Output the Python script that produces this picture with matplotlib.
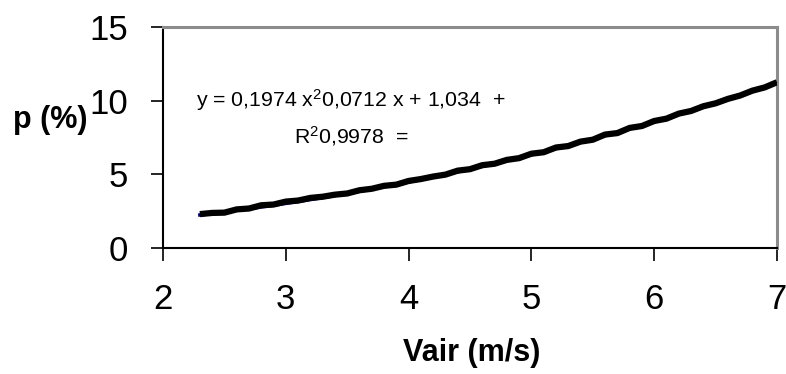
import numpy as np
import matplotlib.pyplot as plt

plt.rcParams['font.family'] = ['Liberation Sans', 'DejaVu Sans']
plt.rcParams['mathtext.fontset'] = 'custom'
plt.rcParams['mathtext.rm'] = 'Liberation Sans'
plt.rcParams['mathtext.default'] = 'regular'

# measured points (Vair in m/s, p in %)
vair = [2.3, 2.4, 2.5, 2.6, 2.7, 2.8, 2.9, 3.0, 3.1, 3.2, 3.3, 3.4, 3.5, 3.6, 3.7, 3.8,
        3.9, 4.0, 4.1, 4.2, 4.3, 4.4, 4.5, 4.6, 4.7, 4.8, 4.9, 5.0, 5.1, 5.2, 5.3, 5.4,
        5.5, 5.6, 5.7, 5.8, 5.9, 6.0, 6.1, 6.2, 6.3, 6.4, 6.5, 6.6, 6.7, 6.8, 6.9, 7.0]
p = [2.30, 2.38, 2.40, 2.62, 2.68, 2.90, 2.95, 3.15, 3.22, 3.40, 3.48, 3.62, 3.70, 3.92,
     4.02, 4.22, 4.30, 4.55, 4.68, 4.85, 4.98, 5.25, 5.35, 5.62, 5.72, 5.98, 6.10, 6.40,
     6.50, 6.82, 6.92, 7.22, 7.35, 7.70, 7.80, 8.15, 8.28, 8.62, 8.78, 9.12, 9.30, 9.62,
     9.82, 10.12, 10.35, 10.68, 10.90, 11.25]

# trendline coefficients shown on the chart
coef = [0.1974, 0.0712, 1.034]
r2 = 0.9978

fig = plt.figure(figsize=(7.86, 3.74), dpi=100)
ax = fig.add_axes([163 / 786, 1 - 248 / 374, (777 - 163) / 786, (248 - 27) / 374])

# polynomial trendline under the measured curve
xt = np.linspace(min(vair), max(vair), 200)
ax.plot(xt, np.polyval(coef, xt), color='#000080', lw=2.5, zorder=2)
ax.plot(vair, p, color='black', lw=4.5, solid_joinstyle='round',
        solid_capstyle='butt', zorder=3)

ax.set_xlim(2, 7)
ax.set_ylim(0, 15)
ax.set_xticks([2, 3, 4, 5, 6, 7])
ax.set_yticks([0, 5, 10, 15])
ax.tick_params(direction='out', length=9, width=1.2, labelsize=25, pad=16, colors='black')

for s in ['left', 'bottom']:
    ax.spines[s].set_color('black')
    ax.spines[s].set_linewidth(1.5)
for s in ['top', 'right']:
    ax.spines[s].set_color('#8c8c8c')
    ax.spines[s].set_linewidth(2.2)

fig.text(50 / 786, 1 - 120 / 374, 'p (%)', fontsize=22, fontweight='bold',
         ha='center', va='center')
fig.text(472 / 786, 1 - 353 / 374, 'Vair (m/s)', fontsize=22, fontweight='bold',
         ha='center', va='center')

c0, c1, c2 = [str(c).replace('.', ',') for c in coef]
fig.text(351 / 786, 1 - 100 / 374,
         'y = %s x$^{2}$%s x + %s  +' % (c0, c1, c2),
         fontsize=15.3, ha='center', va='center')
fig.text(351 / 786, 1 - 136 / 374, 'R$^{2}$%s  =' % str(r2).replace('.', ','),
         fontsize=15.3, ha='center', va='center')

fig.savefig('out.png', dpi=100)
